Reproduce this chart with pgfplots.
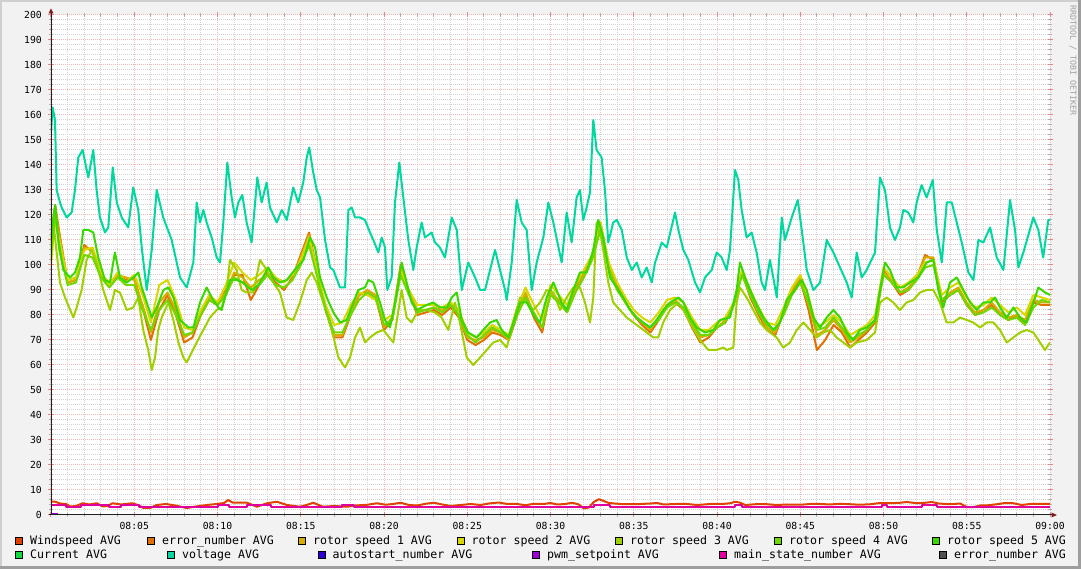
\documentclass[border=0pt]{standalone}
\usepackage{fontspec}
\usepackage{pgfplots}
\usepackage{pgfplotstable}
\pgfplotsset{compat=1.18}
\newfontfamily\rrd{DejaVu Sans Mono}
\newcommand{\tickfont}{\rrd\fontsize{9.75}{10}\selectfont}
\newcommand{\legfont}{\rrd\fontsize{11.6}{12}\selectfont}
\definecolor{cWind}{HTML}{E04000}
\definecolor{cErr}{HTML}{E07000}
\definecolor{cR1}{HTML}{D8AC00}
\definecolor{cR2}{HTML}{D8D800}
\definecolor{cR3}{HTML}{A0D000}
\definecolor{cR4}{HTML}{70D800}
\definecolor{cR5}{HTML}{38D800}
\definecolor{cCur}{HTML}{10D840}
\definecolor{cVolt}{HTML}{00D8A0}
\definecolor{cAuto}{HTML}{3000D8}
\definecolor{cPwm}{HTML}{A000D8}
\definecolor{cMain}{HTML}{E000A0}
\definecolor{cErrB}{HTML}{505050}
\definecolor{bgc}{HTML}{F2F2F2}
\definecolor{shadeA}{HTML}{CFCFCF}
\definecolor{shadeB}{HTML}{9E9E9E}
\definecolor{gridc}{HTML}{D2D2D2}
\definecolor{mgridc}{HTML}{F0B8B8}
\definecolor{tickc}{HTML}{B0B0B0}
\definecolor{mtickc}{HTML}{E08888}
\definecolor{axisc}{HTML}{1F1F1F}
\definecolor{arrowc}{HTML}{7F1F1F}
\definecolor{wmark}{HTML}{A0A0A0}

\pgfplotstableread{
t v
0.00 153
0.10 163
0.24 158
0.34 130
0.54 125
0.64 123
0.94 119
1.24 121
1.44 130
1.64 143
1.90 146
2.24 135
2.54 146
2.74 130
2.94 119
3.24 113
3.44 115
3.71 139
3.95 125
4.25 119
4.64 115
4.94 131
5.24 122
5.45 107
5.75 90
6.05 106
6.35 130
6.74 119
7.25 110
7.75 95
8.15 91
8.55 101
8.75 125
8.95 117
9.15 122
9.35 117
9.65 111
9.95 103
10.15 101
10.35 117
10.59 141
10.85 127
11.05 119
11.25 125
11.49 128
11.75 117
12.05 109
12.39 135
12.65 125
12.95 133
13.15 123
13.56 117
13.86 122
14.16 118
14.55 131
14.85 125
15.15 133
15.36 143
15.51 147
15.75 137
15.96 130
16.16 127
16.46 110
16.76 99
16.96 98
17.36 91
17.66 91
17.86 122
18.06 123
18.26 119
18.56 119
18.86 118
19.16 113
19.36 110
19.66 105
19.86 111
20.06 107
20.20 90
20.46 95
20.66 125
20.92 141
21.16 127
21.46 110
21.76 98
21.96 107
22.26 117
22.46 111
22.86 113
23.06 109
23.36 107
23.66 103
24.07 119
24.37 114
24.56 99
24.67 90
25.06 101
25.47 95
25.77 90
26.07 90
26.37 98
26.67 106
26.97 98
27.27 90
27.37 86
27.67 101
27.97 126
28.27 117
28.57 114
28.87 90
29.17 101
29.57 111
29.87 125
30.17 117
30.67 101
30.97 121
31.27 109
31.57 127
31.77 130
31.97 118
32.17 123
32.37 129
32.57 158
32.77 146
33.07 143
33.27 130
33.47 109
33.77 117
33.98 118
34.28 114
34.58 103
34.88 98
35.18 101
35.48 95
35.78 99
36.08 93
36.28 101
36.68 109
36.98 107
37.48 121
37.68 114
37.98 106
38.28 102
38.68 93
38.98 89
39.28 95
39.68 98
39.98 105
40.28 103
40.58 98
40.78 106
41.08 138
41.28 134
41.48 122
41.78 111
42.08 113
42.38 105
42.68 93
42.88 90
43.18 102
43.38 95
43.59 87
43.89 119
44.08 110
44.49 119
44.85 126
45.09 114
45.39 98
45.79 90
46.19 93
46.59 110
46.99 105
47.39 99
47.79 93
48.09 87
48.39 105
48.69 95
48.99 98
49.49 105
49.79 135
50.09 130
50.39 115
50.69 110
50.99 115
51.19 122
51.49 121
51.79 117
51.99 125
52.29 132
52.59 127
52.96 134
53.20 114
53.50 101
53.80 125
54.10 125
54.40 117
54.70 109
55.10 97
55.40 94
55.70 110
56.00 109
56.40 115
56.80 103
57.20 98
57.60 126
57.90 114
58.10 99
58.40 105
59.00 119
59.30 114
59.59 103
59.90 118
60.00 118
}\voltage

\pgfplotstableread{
t v
0.00 107
0.12 118
0.25 124
0.44 110
0.74 98
1.14 95
1.44 97
1.74 103
1.94 114
2.24 114
2.54 113
2.84 103
3.24 94
3.54 93
3.84 105
4.14 95
4.55 93
4.95 95
5.25 97
5.45 91
5.75 85
6.05 79
6.35 83
6.75 90
7.05 91
7.35 87
7.75 78
8.25 75
8.55 75
8.95 85
9.35 91
9.65 87
10.05 83
10.25 82
10.45 87
10.75 94
11.15 94
11.55 93
11.85 91
12.15 90
12.55 93
13.05 99
13.35 95
13.75 93
14.16 94
14.76 99
15.16 102
15.56 111
15.86 107
16.16 95
16.56 87
16.96 81
17.36 77
17.76 78
18.16 85
18.46 90
18.86 91
19.06 94
19.36 93
19.76 85
20.06 78
20.36 75
20.66 85
21.06 101
21.36 93
21.66 85
21.96 82
22.26 83
22.56 84
22.96 85
23.36 83
23.77 83
24.07 87
24.37 89
24.67 78
25.06 73
25.57 71
25.96 74
26.37 77
26.77 78
27.07 74
27.47 71
27.77 77
28.17 85
28.57 85
29.07 79
29.37 77
29.77 87
30.17 93
30.67 85
30.97 82
31.37 90
31.77 97
32.17 97
32.57 106
32.87 118
33.17 111
33.57 95
33.98 91
34.37 87
34.78 82
35.18 79
35.57 77
35.98 75
36.37 78
36.77 82
37.18 85
37.68 87
37.98 85
38.38 79
38.78 75
39.28 73
39.78 74
40.18 78
40.78 79
41.18 90
41.38 101
41.68 95
42.18 87
42.78 79
43.38 74
43.78 77
44.19 86
44.68 90
45.09 94
45.39 90
45.79 79
46.19 75
46.59 79
46.99 82
47.39 79
47.79 73
48.19 70
48.59 74
48.99 75
49.49 78
49.79 90
50.09 101
50.39 98
50.79 91
51.19 91
51.59 93
52.09 95
52.59 101
52.99 102
53.29 90
53.59 83
53.99 93
54.40 95
54.80 90
55.20 85
55.60 82
56.00 85
56.40 85
56.70 87
57.00 83
57.40 79
57.80 83
58.20 79
58.60 77
59.00 85
59.30 91
59.70 89
60.00 88
}\rotorfive

\pgfplotstableread{
t v
0.00 102
0.14 117
0.54 93
0.84 87
1.34 79
1.54 83
1.84 90
2.14 102
2.44 106
2.74 101
3.14 90
3.54 82
3.84 90
4.14 89
4.55 82
4.94 83
5.24 87
5.54 74
5.84 66
6.05 58
6.25 63
6.44 74
6.65 79
7.05 85
7.35 78
7.65 69
7.95 63
8.15 61
8.45 65
8.75 69
9.15 74
9.55 79
9.95 82
10.25 83
10.55 90
10.75 102
11.15 98
11.45 90
11.75 89
12.15 89
12.55 102
12.96 98
13.35 93
13.75 89
14.15 79
14.55 78
14.95 85
15.36 94
15.66 97
15.96 93
16.35 85
16.86 74
17.26 63
17.66 59
17.96 63
18.26 71
18.56 75
18.86 69
19.16 71
19.56 73
19.96 74
20.56 69
21.06 90
21.36 79
21.66 77
22.06 82
22.56 82
23.06 81
23.46 79
23.86 74
24.26 85
24.56 77
24.97 63
25.36 60
25.77 63
26.17 66
26.56 69
26.97 70
27.37 67
27.77 77
28.17 87
28.57 85
28.97 82
29.37 85
29.77 90
30.17 89
30.57 82
30.97 87
31.37 91
31.77 91
32.07 85
32.37 77
32.57 87
32.77 117
33.07 110
33.47 93
33.77 85
34.17 82
34.58 79
34.97 77
35.38 75
35.78 73
36.17 71
36.47 71
36.77 77
37.18 82
37.68 85
37.98 82
38.38 77
38.98 70
39.48 66
39.98 66
40.38 67
40.58 66
40.98 67
41.18 85
41.38 91
41.78 87
42.18 82
42.58 77
42.98 74
43.58 71
43.98 67
44.38 69
44.79 74
45.19 77
45.59 74
45.99 71
46.39 73
46.79 74
47.19 71
47.59 69
47.99 67
48.39 69
48.99 70
49.49 73
49.79 85
50.19 87
50.59 85
50.99 82
51.39 85
51.79 86
52.19 89
52.59 90
52.99 90
53.39 85
53.79 77
54.19 77
54.59 79
54.99 78
55.39 77
55.80 75
56.20 77
56.60 77
57.00 74
57.40 69
57.80 71
58.20 73
58.60 74
59.00 73
59.40 69
59.70 66
60.00 69
}\rotorthree

\pgfplotstableread{
t r4 r2 r1 er
0.0 104 100 108 110
0.25 121 118 123 124
0.5 106 110 112 113
1.0 92 94 93 93
1.5 93 95 94 94
2.0 104 106 107 108
2.5 103 107 106 105
3.0 95 97 96 96
3.5 91 92 93 92
4.0 95 97 96 96
4.5 92 93 95 94
5.0 92 96 94 95
5.5 82 88 84 83
6.0 74 77 73 70
6.5 82 92 85 82
7.0 86 94 89 88
7.5 80 86 82 80
8.0 72 75 71 69
8.5 73 74 73 71
9.0 80 82 81 80
9.5 86 88 87 86
10.0 84 85 85 84
10.5 88 92 89 90
11.0 95 101 97 96
11.5 93 97 95 96
12.0 90 94 91 86
12.5 92 96 94 92
13.0 96 99 96 97
13.5 92 95 92 93
14.0 91 93 91 90
14.5 94 96 94 95
15.0 100 102 103 104
15.5 108 111 112 113
16.0 95 97 96 97
16.5 82 84 83 82
17.0 73 76 72 71
17.5 73 77 72 71
18.0 80 84 81 80
18.5 86 89 88 88
19.0 89 88 90 89
19.5 87 86 88 87
20.0 76 78 75 74
20.5 78 80 79 78
21.0 96 98 99 100
21.5 88 90 89 89
22.0 81 84 82 80
22.5 82 84 82 81
23.0 83 84 83 82
23.5 81 83 82 80
24.0 84 85 84 83
24.5 80 82 80 79
25.0 72 73 71 70
25.5 69 71 70 68
26.0 72 73 71 70
26.5 75 76 74 73
27.0 73 74 73 72
27.5 71 72 70 70
28.0 80 83 81 80
28.5 87 91 89 88
29.0 81 84 80 79
29.5 75 78 75 73
30.0 88 92 89 90
30.5 85 88 86 85
31.0 81 84 82 82
31.5 89 92 90 91
32.0 95 98 96 97
32.5 102 104 103 104
33.0 114 117 116 117
33.5 98 101 99 99
34.0 90 93 91 92
34.5 85 87 85 85
35.0 80 82 80 80
35.5 77 79 77 76
36.0 75 77 74 73
36.5 78 81 79 78
37.0 83 86 84 84
37.5 85 87 86 85
38.0 83 85 82 82
38.5 77 79 76 75
39.0 72 74 71 69
39.5 72 74 72 71
40.0 75 77 75 75
40.5 77 79 78 77
41.0 84 85 84 84
41.5 96 98 97 97
42.0 88 90 88 87
42.5 81 83 81 80
43.0 76 77 75 74
43.5 74 76 73 72
44.0 80 83 81 81
44.5 88 91 90 89
45.0 93 96 95 94
45.5 85 87 84 82
46.0 74 75 72 66
46.5 75 77 74 70
47.0 79 80 78 76
47.5 75 77 74 73
48.0 70 72 69 67
48.5 72 74 71 70
49.0 74 76 74 73
49.5 78 80 78 77
50.0 96 99 97 98
50.5 93 95 94 93
51.0 89 91 89 88
51.5 90 93 91 90
52.0 94 96 95 95
52.5 99 101 103 104
53.0 100 102 103 102
53.5 86 88 86 85
54.0 88 91 89 88
54.5 90 93 91 90
55.0 84 87 85 84
55.5 80 83 81 80
56.0 81 84 82 82
56.5 83 87 85 84
57.0 80 84 81 80
57.5 78 81 79 78
58.0 79 83 80 80
58.5 76 80 78 77
59.0 83 88 86 85
59.5 86 87 85 84
60.0 85 86 85 84
}\bundle

\pgfplotstableread{
t v
0.00 5.3
0.25 5.3
0.55 4.6
0.90 4.4
1.15 3.4
1.50 3.6
1.90 4.7
2.30 4.2
2.75 4.7
3.10 3.4
3.40 3.6
3.70 4.7
4.20 4.2
4.90 4.7
5.30 3.8
5.55 2.8
5.95 2.8
6.35 4.0
6.90 4.4
7.55 3.7
8.15 2.8
8.90 3.6
9.50 4.1
9.95 4.4
10.40 4.8
10.63 6.0
10.93 4.9
11.40 5.0
11.77 4.9
12.37 3.3
12.97 4.7
13.57 5.3
14.17 4.0
14.95 3.3
15.40 4.1
15.74 4.9
16.34 3.3
17.00 3.6
17.78 3.3
18.30 3.8
19.00 4.1
19.58 4.7
20.10 4.1
20.54 4.4
21.00 4.9
21.50 4.0
22.00 3.8
22.50 4.5
23.00 4.9
23.50 4.2
24.00 3.6
24.60 4.0
25.20 4.4
25.80 4.0
26.30 4.6
26.90 5.0
27.40 4.4
28.00 4.4
28.50 3.9
29.00 4.5
29.60 4.4
30.00 4.8
30.40 4.2
30.90 4.4
31.30 4.9
31.70 4.2
32.00 2.6
32.30 3.0
32.60 5.2
32.90 6.3
33.20 5.6
33.50 4.8
34.20 4.4
34.80 4.3
35.40 4.4
36.00 4.6
36.40 4.8
36.80 4.2
37.50 4.4
38.20 4.4
38.80 4.0
39.60 4.4
40.30 4.4
40.80 4.7
41.10 5.3
41.40 4.9
41.70 4.0
42.30 4.3
43.00 4.3
43.60 4.0
44.20 4.2
45.00 4.1
45.60 4.4
46.20 4.4
46.80 4.2
47.40 4.5
48.00 4.3
48.60 4.1
49.20 4.3
49.80 4.8
50.40 4.7
51.00 4.9
51.40 5.2
52.00 4.7
52.50 4.9
52.90 5.2
53.30 4.6
54.00 4.3
54.60 4.6
55.00 3.2
55.40 3.1
55.80 3.8
56.30 3.9
56.80 4.3
57.30 4.8
57.80 4.7
58.30 4.0
58.80 4.4
59.40 4.5
60.00 4.4
}\wind

\pgfplotstableread{
t v
0.0 4
0.9 4
0.9 3
1.8 3
1.8 4
3.5 4
3.5 3
4.2 3
4.2 4
5.3 4
5.3 3
10.0 3
10.0 4
10.7 4
10.7 3
11.8 3
11.8 4
13.2 4
13.2 3
17.5 3
17.5 4
18.2 4
18.2 3
32.6 3
32.6 4
33.6 4
33.6 3
41.1 3
41.1 4
41.5 4
41.5 3
49.9 3
49.9 4
50.2 4
50.2 3
52.3 3
52.3 4
53.2 4
53.2 3
60.0 3
}\mainstate

\begin{document}
\begin{tikzpicture}[x=1pt,y=1pt]
\useasboundingbox (0,0) rectangle (1081,569);
% background and 3D frame
\fill[bgc] (0,0) rectangle (1081,569);
\fill[shadeA] (0,0) rectangle (2,569);
\fill[shadeA] (0,567) rectangle (1081,569);
\fill[shadeB] (1078,0) rectangle (1081,569);
\fill[shadeB] (0,0) rectangle (1081,3);

\begin{axis}[
  at={(51pt,54pt)}, anchor=south west,
  scale only axis, width=999pt, height=500pt,
  xmin=0, xmax=60, ymin=0, ymax=200,
  axis line style={draw=none},
  axis background/.style={fill=white},
  xtick={0,5,...,60},
  xticklabels={{},08:05,08:10,08:15,08:20,08:25,08:30,08:35,08:40,08:45,08:50,08:55,09:00},
  minor x tick num=4,
  ytick={0,10,...,200},
  minor y tick num=4,
  grid=both,
  major grid style={draw=mgridc, dash pattern=on 1pt off 1pt, line width=1pt},
  minor grid style={draw=gridc, dash pattern=on 1pt off 1pt, line width=1pt},
  tick align=center,
  major tick length=5pt, minor tick length=4pt,
  major tick style={draw=mtickc, line width=1pt},
  minor tick style={draw=tickc, line width=1pt},
  /pgf/number format/assume math mode=true,
  tick label style={font=\tickfont, inner sep=0pt},
  xticklabel style={anchor=base, yshift=-12pt},
  yticklabel style={anchor=east, xshift=-6.5pt},
  every axis plot/.append style={line width=2pt, line join=round, mark=none},
]
\addplot[cWind] table[x=t,y=v] {\wind};
\addplot[cErr] table[x=t,y=er] {\bundle};
\addplot[cR1] table[x=t,y=r1] {\bundle};
\addplot[cR2] table[x=t,y=r2] {\bundle};
\addplot[cR3] table[x=t,y=v] {\rotorthree};
\addplot[cR4] table[x=t,y=r4] {\bundle};
\addplot[cR5] table[x=t,y=v] {\rotorfive};
\addplot[cVolt] table[x=t,y=v] {\voltage};
\addplot[cPwm] coordinates {(0.05,0.3) (0.4,0.3)};
\addplot[cMain] table[x=t,y=v] {\mainstate};
\end{axis}

% axes with arrows
\draw[axisc, line width=1pt] (51,54) -- (51,556);
\fill[arrowc] (48.5,555.5) -- (51,560.5) -- (53.5,555.5) -- cycle;
\draw[axisc, line width=1pt] (49,54) -- (1052,54);
\fill[arrowc] (1051.5,51.5) -- (1057,54) -- (1051.5,56.5) -- cycle;

% watermark
\node[rotate=-90, anchor=west, inner sep=0pt, text=wmark, font=\rrd\fontsize{8.3}{9}\selectfont] at (1073,564) {RRDTOOL / TOBI OETIKER};

% legend
\newcommand{\legbox}[4]{%
  \draw[fill=#3, draw=black, line width=1pt] (#1+0.5,#2+0.5) rectangle (#1+7.8,#2+7.8);
  \node[anchor=base west, inner sep=0pt, font=\legfont] at (#1+15,#2+0.5) {#4};}
\legbox{15}{23.5}{cWind}{Windspeed AVG}
\legbox{147}{23.5}{cErr}{error\_number AVG}
\legbox{298}{23.5}{cR1}{rotor speed 1 AVG}
\legbox{456.5}{23.5}{cR2}{rotor speed 2 AVG}
\legbox{615}{23.5}{cR3}{rotor speed 3 AVG}
\legbox{774}{23.5}{cR4}{rotor speed 4 AVG}
\legbox{932}{23.5}{cR5}{rotor speed 5 AVG}
\legbox{15}{9.5}{cCur}{Current AVG}
\legbox{167}{9.5}{cVolt}{voltage AVG}
\legbox{317.5}{9.5}{cAuto}{autostart\_number AVG}
\legbox{532}{9.5}{cPwm}{pwm\_setpoint AVG}
\legbox{719}{9.5}{cMain}{main\_state\_number AVG}
\legbox{939}{9.5}{cErrB}{error\_number AVG}
\end{tikzpicture}
\end{document}
